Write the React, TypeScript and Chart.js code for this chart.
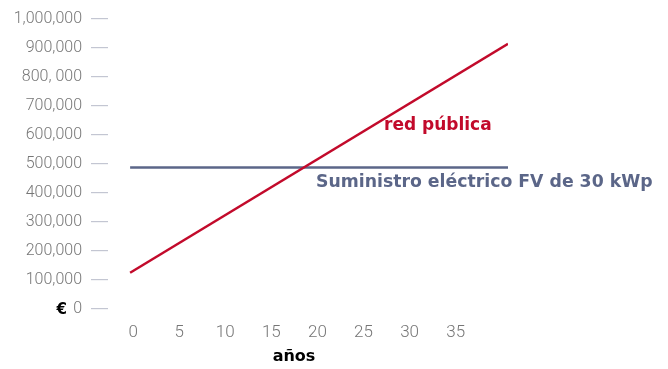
import React, { useEffect, useRef } from "react";
import { Chart, registerables } from "chart.js";

Chart.register(...registerables);

// Years spanned by the two cost lines
const years = [0, 41];
// Cumulative cost of buying power from the public grid (€)
const gridCost = [125000, 913000];
// Cost of a 30 kWp photovoltaic installation (€)
const pvCost = [487000, 487000];

const xTickValues = [0, 5, 10, 15, 20, 25, 30, 35];
const yTickValues = [0, 100000, 200000, 300000, 400000, 500000, 600000, 700000, 800000, 900000, 1000000];
const yTickLabels = ["0", "100,000", "200,000", "300,000", "400,000", "500,000", "600,000", "700,000", "800, 000", "900,000", "1,000,000"];

const RED = "#c20a2b";
const SLATE = "#5b6688";
const TICK_GREY = "#767676";
const LABEL_FONT = "'DejaVu Sans', sans-serif";
const TICK_FONT = "Roboto, 'Liberation Sans', sans-serif";

const annotations = {
  id: "annotations",
  afterDraw(chart: any) {
    const { ctx, scales } = chart;
    const y = scales.y;
    ctx.save();
    ctx.textBaseline = "middle";

    ctx.font = `bold 17px ${LABEL_FONT}`;
    ctx.fillStyle = RED;
    ctx.textAlign = "left";
    ctx.fillText("red pública", 384, 126);

    ctx.font = `bold 17.3px ${LABEL_FONT}`;
    ctx.fillStyle = SLATE;
    ctx.fillText("Suministro eléctrico FV de 30 kWp", 316, 183);

    ctx.fillStyle = "#000";
    ctx.textAlign = "center";
    ctx.font = `bold 16px ${LABEL_FONT}`;
    ctx.fillText("años", 294, 357);

    // currency sign in front of the zero tick
    ctx.textAlign = "right";
    ctx.font = `bold 15px ${LABEL_FONT}`;
    ctx.fillText("€", 67, y.getPixelForValue(0) + 1);
    ctx.restore();
  },
};

export default function App() {
  const canvasRef = useRef<HTMLCanvasElement | null>(null);

  useEffect(() => {
    const canvas = canvasRef.current;
    if (!canvas) return;
    const chart = new Chart(canvas, {
      type: "line",
      data: {
        datasets: [
          {
            label: "red pública",
            data: years.map((yr, i) => ({ x: yr, y: gridCost[i] })),
            borderColor: RED,
            borderWidth: 2.5,
            pointRadius: 0,
            fill: false,
          },
          {
            label: "Suministro eléctrico FV de 30 kWp",
            data: years.map((yr, i) => ({ x: yr, y: pvCost[i] })),
            borderColor: SLATE,
            borderWidth: 2.5,
            pointRadius: 0,
            fill: false,
          },
        ],
      },
      options: {
        responsive: false,
        animation: false,
        maintainAspectRatio: false,
        layout: { padding: { top: 17, right: 160, left: 0, bottom: 0 } },
        plugins: {
          legend: { display: false },
          tooltip: { enabled: false },
        },
        scales: {
          x: {
            type: "linear",
            min: -2.4,
            max: 41,
            afterBuildTicks: (scale: any) => {
              scale.ticks = xTickValues.map((v) => ({ value: v }));
            },
            afterFit: (scale: any) => {
              scale.height = 60;
            },
            grid: { display: false, drawTicks: false },
            border: { display: false },
            ticks: {
              padding: 14,
              labelOffset: 3,
              color: TICK_GREY,
              font: { family: TICK_FONT, size: 17, weight: "300" },
              maxRotation: 0,
              autoSkip: false,
            },
          },
          y: {
            type: "linear",
            min: 0,
            max: 1000000,
            afterBuildTicks: (scale: any) => {
              scale.ticks = yTickValues.map((v) => ({ value: v }));
            },
            afterFit: (scale: any) => {
              scale.width = 108;
            },
            grid: {
              display: true,
              drawOnChartArea: false,
              drawTicks: true,
              tickLength: 17,
              color: "#c3c6d2",
              lineWidth: 1.2,
            },
            border: { display: false },
            ticks: {
              padding: 9,
              color: TICK_GREY,
              font: { family: TICK_FONT, size: 16, weight: "300" },
              autoSkip: false,
              callback: (_v: any, i: number) => yTickLabels[i],
            },
          },
        },
      },
      plugins: [annotations],
    });
    return () => chart.destroy();
  }, []);

  return (
    <div style={{ position: "fixed", left: 0, top: 0, width: 668, height: 369, background: "#fff" }}>
      <canvas ref={canvasRef} width={668} height={369} />
    </div>
  );
}
